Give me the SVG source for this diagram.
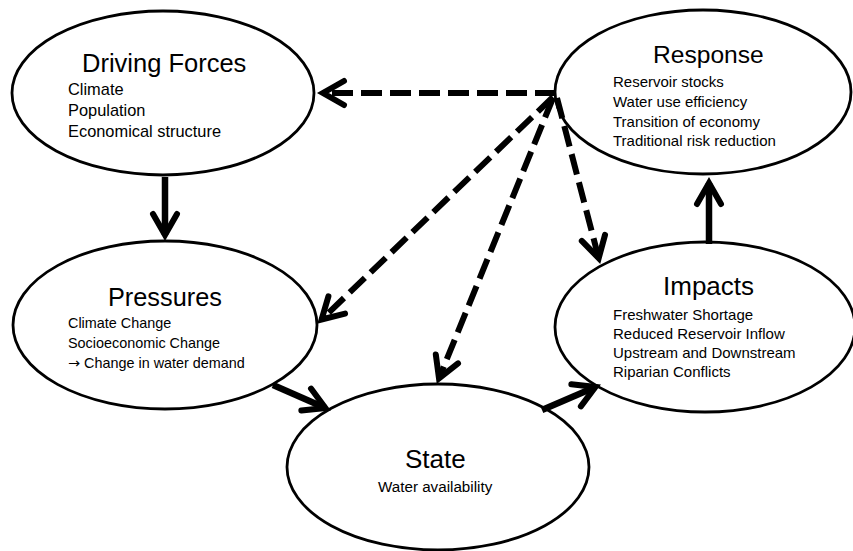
<svg xmlns="http://www.w3.org/2000/svg" width="853" height="551" viewBox="0 0 853 551">
  <style>
    .node ellipse { fill: #ffffff; stroke: #000000; stroke-width: 2.8; }
    text { font-family: "Liberation Sans", Arial, sans-serif; fill: #000000; }
    .title { font-size: 25.5px; }
    .item { font-size: 15px; }
    .sym { font-family: "DejaVu Sans", sans-serif; }
    .solid { fill: none; stroke: #000000; stroke-width: 6.5; }
    .dashed { fill: none; stroke: #000000; stroke-width: 6; stroke-dasharray: 21 8; }
  </style>
  <defs>
    <marker id="chevron" markerUnits="userSpaceOnUse" viewBox="-26 -16 36 32" markerWidth="36" markerHeight="32" refX="0" refY="0" orient="auto" overflow="visible">
      <path d="M-21,-12 L0,0 L-21,12" fill="none" stroke="#000000" stroke-width="6" stroke-linecap="round" stroke-linejoin="miter" stroke-dasharray="none"/>
    </marker>
  </defs>

  <rect x="0" y="0" width="853" height="551" fill="#ffffff"/>

  <g id="driving-forces" class="node">
    <ellipse cx="163" cy="93" rx="151" ry="82"/>
    <text class="title" x="82" y="72">Driving Forces</text>
    <text x="68" y="95" style="font-size:16.4px">Climate</text>
    <text x="68" y="116" style="font-size:16.4px">Population</text>
    <text x="68" y="137" style="font-size:16.4px">Economical structure</text>
  </g>

  <g id="response" class="node">
    <ellipse cx="703" cy="92" rx="148" ry="82"/>
    <text class="title" x="653" y="63" style="font-size:24.6px">Response</text>
    <text class="item" x="613" y="87">Reservoir stocks</text>
    <text class="item" x="613" y="107">Water use efficiency</text>
    <text class="item" x="613" y="127">Transition of economy</text>
    <text class="item" x="613" y="146">Traditional risk reduction</text>
  </g>

  <g id="pressures" class="node">
    <ellipse cx="165" cy="325" rx="152" ry="84"/>
    <text class="title" x="108" y="306" style="font-size:25.3px">Pressures</text>
    <text x="68" y="328" style="font-size:14.4px">Climate Change</text>
    <text x="68" y="348" style="font-size:14.4px">Socioeconomic Change</text>
    <text x="68" y="368" style="font-size:14.4px"><tspan class="sym">→</tspan> Change in water demand</text>
  </g>

  <g id="impacts" class="node">
    <ellipse cx="705" cy="327" rx="150" ry="85"/>
    <text class="title" x="663" y="295" style="font-size:26px">Impacts</text>
    <text class="item" x="613" y="320">Freshwater Shortage</text>
    <text class="item" x="613" y="339">Reduced Reservoir Inflow</text>
    <text class="item" x="613" y="358">Upstream and Downstream</text>
    <text class="item" x="613" y="377">Riparian Conflicts</text>
  </g>

  <g id="state" class="node">
    <ellipse cx="438" cy="467" rx="151" ry="83"/>
    <text class="title" x="405" y="468" style="font-size:26px">State</text>
    <text x="378" y="492" style="font-size:15.2px">Water availability</text>
  </g>

  <g id="connectors">
    <!-- causal chain -->
    <path class="solid" d="M165,177 L165,235" marker-end="url(#chevron)"/>
    <path class="solid" d="M273,385 L325.4,408" marker-end="url(#chevron)"/>
    <path class="solid" d="M542,410 L595.4,387" marker-end="url(#chevron)"/>
    <path class="solid" d="M709,244 L709,183" marker-end="url(#chevron)"/>
    <!-- feedback from response -->
    <path class="dashed" d="M556,93 L323,93" marker-end="url(#chevron)"/>
    <path class="dashed" d="M553,97 L321.6,319.5" marker-end="url(#chevron)"/>
    <path class="dashed" d="M553,98 L439,378.4" marker-end="url(#chevron)"/>
    <path class="dashed" d="M557,98 L598.7,258.2" marker-end="url(#chevron)"/>
  </g>
</svg>
